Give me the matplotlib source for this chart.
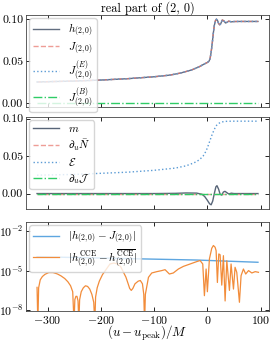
import matplotlib
matplotlib.use("Agg")
import matplotlib.pyplot as plt
import numpy as np

plt.rcParams.update({
    "font.family": "serif",
    "font.serif": ["cmr10", "DejaVu Serif"],
    "mathtext.fontset": "cm",
    "axes.formatter.use_mathtext": True,
    "axes.unicode_minus": True,
    "font.size": 8.5,
})

# ---------------- data ----------------
# panel 1: real part of (2,0) strain / memory pieces
u_h = [-320, -290, -250, -200, -150, -100, -70, -50, -30, -15, -5, 0, 3, 5, 7, 9, 11, 13, 15,
       17, 19, 21, 23, 25, 28, 31, 34, 37, 40, 45, 50, 60, 95]
h_vals = [0.0248, 0.0253, 0.0259, 0.0271, 0.0287, 0.0310, 0.0330, 0.0355, 0.0390, 0.0430, 0.0465,
          0.0480, 0.0495, 0.0525, 0.0600, 0.0700, 0.0820, 0.0920, 0.0975, 0.0995, 0.0980, 0.0945,
          0.0928, 0.0940, 0.0985, 0.0975, 0.0950, 0.0958, 0.0972, 0.0963, 0.0967, 0.0968, 0.0968]
J_vals = list(h_vals)
JE_vals = list(h_vals)
u_JB = [-320, 95]
JB_vals = [0.0, 0.0]

# panel 2: balance-law contributions
u_m = [-320, -100, -60, -40, -20, -10, -5, 0, 4, 7, 10, 13, 16, 18, 21, 24, 27, 30, 33, 37, 40, 45, 50, 95]
m_vals = [0.0, 0.0, 0.0003, 0.0008, 0.0006, -0.001, -0.004, -0.009, -0.0135, -0.015, -0.010, 0.0,
          0.009, 0.0105, 0.006, -0.001, -0.002, 0.002, 0.003, 0.001, -0.0005, 0.0005, 0.0, 0.0]
u_E = [-320, -250, -200, -150, -100, -60, -40, -25, -15, -8, -3, 0, 4, 8, 12, 16, 20, 25, 32, 45, 95]
E_vals = [0.0245, 0.0255, 0.0270, 0.0285, 0.0310, 0.0340, 0.0370, 0.0410, 0.0450, 0.0500, 0.0560,
          0.0610, 0.0690, 0.0770, 0.0840, 0.0900, 0.0930, 0.0950, 0.0962, 0.0965, 0.0965]
u_dN = [-320, 95]
dN_vals = [0.0, 0.0]
u_dJ = [-320, 95]
dJ_vals = [0.0, 0.0]

# panel 3: absolute differences (log10 of value)
u_diff = [-320, -20, 95]
log_diff_hJ = [-3.95, -4.2, -4.37]
u_cce = [-320, -318.5, -317, -314, -310, -305, -298, -290, -282, -275, -268, -262, -257, -253,
         -250.5, -249, -247, -245, -243, -241.5, -240, -237, -233, -229, -225, -221, -217, -213.5,
         -211.5, -210, -207, -203, -197, -190, -183, -176, -168, -163, -158, -153, -148, -146, -143,
         -140, -136, -130, -126, -122, -119.5, -118, -116.5, -110.7, -104.5, -95, -85.7, -79.5,
         -71.4, -64, -54.5, -45, -32.5, -20, -13.7, -8.7, -5.6, -2.4, 0, 3.8, 8.2, 11.3, 14.5, 16.4,
         18.8, 21.4, 23.9, 27, 30.1, 33.3, 36.5, 41.4, 44.5, 49, 52, 55.2, 60.2, 63.3, 67.7, 72,
         77.3, 83.5, 89.8, 96]
log_cce = [-6.27, -9.0, -6.3, -5.7, -5.45, -5.28, -5.15, -5.15, -5.25, -5.4, -5.6, -5.85, -6.15, -6.6,
           -9.0, -7.2, -6.95, -6.95, -7.3, -9.0, -7.2, -6.6, -6.3, -6.15, -6.2, -6.4, -6.8, -7.4,
           -9.0, -7.0, -6.3, -5.8, -5.3, -4.9, -4.5, -4.43, -4.5, -4.7, -5.1, -5.5, -6.1, -6.35, -6.5,
           -6.35, -6.0, -5.8, -5.75, -6.0, -6.8, -9.0, -6.8, -5.51, -5.18, -5.08, -5.0, -4.93,
           -5.26, -5.18, -4.88, -4.68, -4.5, -4.32, -4.24, -4.5, -6.9, -4.88, -6.6, -4.12, -3.31,
           -3.1, -3.23, -3.49, -5.9, -3.74, -3.8, -6.1, -3.87, -7.3, -4.25, -6.5, -4.5, -6.4, -4.75,
           -5.13, -7.4, -5.38, -4.88, -5.26, -5.0, -5.18, -5.08, -5.13]

# ---------------- figure ----------------
W, H = 273, 342
fig = plt.figure(figsize=(W / 100, H / 100), dpi=100)

def box(l, r, t, b):
    return [l / W, 1 - b / H, (r - l) / W, (b - t) / H]

ax1 = fig.add_axes(box(26, 269, 15, 107))
ax2 = fig.add_axes(box(26, 269, 117, 209), sharex=ax1)
ax3 = fig.add_axes(box(26, 269, 222, 311), sharex=ax1)

c_dark = "#3b4a60"
c_red = "#e8746a"
c_blue = "#5b9bd5"
c_green = "#2fcc66"

leg_kw = dict(loc="upper left", fontsize=8, handlelength=2.3, borderpad=0.35,
              handletextpad=0.8, borderaxespad=0.3, framealpha=0.8, edgecolor="#cccccc")

ax1.plot(u_h, h_vals, color=c_dark, lw=1.0, alpha=0.8, label=r"$h_{(2,0)}$")
ax1.plot(u_h, J_vals, color=c_red, lw=1.0, ls="--", alpha=0.7, label=r"$J_{(2,0)}$")
ax1.plot(u_h, JE_vals, color=c_blue, lw=1.0, ls=":", label=r"$J^{(E)}_{(2,0)}$")
ax1.plot(u_JB, JB_vals, color=c_green, lw=1.0, ls="-.", label=r"$J^{(B)}_{(2,0)}$")
ax1.set_title("real part of (2, 0)", fontsize=8.8, pad=1.5)
ax1.set_yticks([0.0, 0.05, 0.10])
ax1.set_yticklabels(["0.00", "0.05", "0.10"])
ax1.legend(labelspacing=0.25, **leg_kw)

ax2.plot(u_m, m_vals, color=c_dark, lw=1.0, alpha=0.85, label=r"$m$")
ax2.plot(u_dN, dN_vals, color=c_red, lw=1.0, ls="--", alpha=0.7, label=r"$\partial_u\bar{N}$")
ax2.plot(u_E, E_vals, color=c_blue, lw=1.0, ls=":", label=r"$\mathcal{E}$")
ax2.plot(u_dJ, dJ_vals, color=c_green, lw=1.0, ls="-.", label=r"$\partial_u\mathcal{J}$")
ax2.set_yticks([0.0, 0.05, 0.10])
ax2.set_yticklabels(["0.00", "0.05", "0.10"])
ax2.legend(labelspacing=0.3, **leg_kw)

ax3.plot(u_diff, 10 ** np.array(log_diff_hJ), color="#5ea6e0", lw=1.0,
         label=r"$|h_{(2,0)}-J_{(2,0)}|$")
ax3.plot(u_cce, 10 ** np.array(log_cce), color="#f28c3a", lw=0.9,
         label=r"$|h^{\rm CCE}_{(2,0)}-h^{\overline{\rm CCE}}_{(2,0)}|$")
ax3.set_yscale("log")
ax3.set_ylim(10 ** -8.06, 10 ** -1.32)
ax3.set_yticks([1e-8, 1e-5, 1e-2])
ax3.yaxis.set_minor_locator(matplotlib.ticker.NullLocator())
ax3.set_xlabel(r"$(u-u_{\rm peak})/M$", fontsize=9.3, labelpad=-1)
ax3.legend(labelspacing=0.2, **leg_kw)

ax1.set_xticks([-300, -200, -100, 0, 100])
ax1.set_xlim(-340.75, 115.75)

for ax in (ax1, ax2, ax3):
    ax.tick_params(direction="in", top=True, right=True, length=3, width=0.6,
                   labelsize=8.5, pad=2)
    for s in ax.spines.values():
        s.set_linewidth(0.6)
        s.set_color("#444444")
for ax in (ax1, ax2):
    plt.setp(ax.get_xticklabels(), visible=False)

fig.savefig("out.png", dpi=100)
